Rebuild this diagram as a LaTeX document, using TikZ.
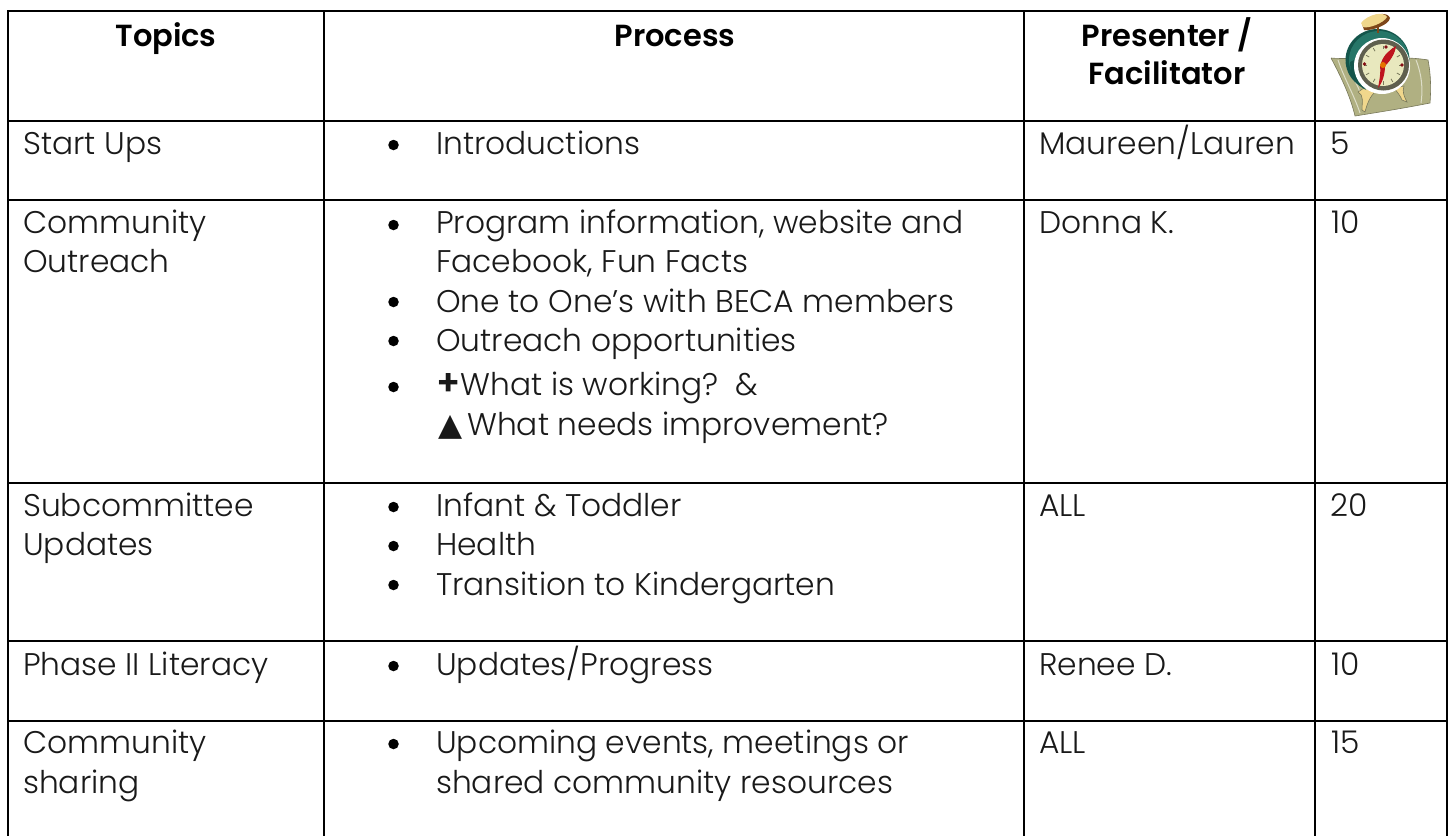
\documentclass[tikz,border=0pt]{standalone}
\usepackage{fontspec}
\setmainfont{Poppins Light}
\newfontfamily\boldf{Poppins SemiBold}
\newfontfamily\symf{DejaVu Sans}
\definecolor{panel}{RGB}{176,176,130}
\definecolor{panelL}{RGB}{222,222,200}
\definecolor{panelD}{RGB}{120,120,90}
\definecolor{tealc}{RGB}{38,118,104}
\definecolor{teald}{RGB}{20,85,75}
\definecolor{facec}{RGB}{232,232,190}
\definecolor{rimc}{RGB}{95,95,78}
\definecolor{handc}{RGB}{190,20,30}
\definecolor{hatc}{RGB}{240,215,140}
\definecolor{hatd}{RGB}{125,70,25}
\tikzset{
 grid/.style={line width=2.2pt,black},
 txt/.style={anchor=base west,inner sep=0pt,font=\fontsize{31.3}{40}\selectfont,text=black!90},
 hdr/.style={anchor=base,inner sep=0pt,align=center,font=\fontsize{30.5}{40}\selectfont\boldf},
 bul/.style={circle,fill=black,inner sep=0pt,minimum size=10.5pt},
}
\begin{document}
\begin{tikzpicture}[x=1pt,y=-1pt]
\useasboundingbox (0,0) rectangle (1450,836);
\foreach \y in {11,121,200,483,641,721} \draw[grid] (7,\y)--(1448,\y);
\foreach \x in {8,324,1024,1315,1447} \draw[grid] (\x,10)--(\x,836);
% headers
\node[hdr] (h1) at (166,46) {Topics};
\node[hdr] (h2) at (675,46) {Process};
\node[hdr] (h3) at (1167,46) {Presenter /};
\node[hdr] (h3b) at (1167,84) {Facilitator};
% column 1
\node[txt] (t1) at (23,154) {Start Ups};
\node[txt] (t2) at (23,233) {Community};
\node[txt] (t2b) at (23,272) {Outreach};
\node[txt] (t3) at (23,516) {Subcommittee};
\node[txt] (t3b) at (23,555) {Updates};
\node[txt] (t4) at (23,675) {Phase II Literacy};
\node[txt] (t5) at (23,753) {Community};
\node[txt] (t5b) at (23,793) {sharing};
% column 2
\foreach \y/\t in {154/{Introductions},233/{Program information, website and},272/{Facebook, Fun Facts},312/{One to One’s with BECA members},351/{Outreach opportunities},516/{Infant \& Toddler},555/{Health},595/{Transition to Kindergarten},675/{Updates/Progress},753/{Upcoming events, meetings or},793/{shared community resources}}
  \node[txt] at (436,\y) {\t};
\node[txt] (w1) at (436,395) {{\boldf\fontsize{36}{40}\selectfont +}What is working?\ \ \&};
\node[txt] (w2) at (436,435) {\hspace{2pt}{\symf ▲}\hspace{5pt}What needs improvement?};
\foreach \y in {145,225,302,341,387,507,546,585,666,744}
  \node[bul] at (393.5,\y) {};
% column 3
\node[txt] (p1) at (1039,154) {Maureen/Lauren};
\node[txt] (p2) at (1039,233) {Donna K.};
\node[txt] (p3) at (1039,516) {ALL};
\node[txt] (p4) at (1039,675) {Renee D.};
\node[txt] (p5) at (1039,753) {ALL};
% column 4
\node[txt] (n1) at (1330,154) {5};
\node[txt] (n2) at (1331,233) {10};
\node[txt] (n3) at (1330,516) {20};
\node[txt] (n4) at (1331,675) {10};
\node[txt] (n5) at (1331,753) {15};
% clock
\filldraw[fill=panel,draw=panelD,line width=.6pt] (1331,58) .. controls (1350,60) and (1400,55) .. (1428,60) .. controls (1431,75) and (1431,90) .. (1430,103) .. controls (1405,108) and (1380,112) .. (1355,116) .. controls (1350,95) and (1340,75) .. (1331,58);
\draw[panelL,line width=1pt] (1338,60) .. controls (1344,78) and (1354,95) .. (1360,113);
\draw[panelL,line width=1pt] (1346,61) .. controls (1350,72) and (1356,82) .. (1360,92);
\draw[panelL,line width=1pt] (1416,60) .. controls (1422,75) and (1423,90) .. (1421,103);
\filldraw[fill=hatc,draw=panelD,line width=.6pt] (1364,88) -- (1376,91) .. controls (1370,96) and (1367,104) .. (1365,112) -- (1362,110) .. controls (1362,102) and (1364,95) .. (1358,92) -- cycle;
\filldraw[fill=hatc,draw=panelD,line width=.6pt] (1394,88) -- (1404,86) .. controls (1402,92) and (1404,96) .. (1407,102) -- (1402,100) .. controls (1400,95) and (1397,92) .. (1394,88) -- cycle;
\fill[teald] (1377.5,60) ellipse[x radius=32,y radius=31];
\fill[tealc] (1379,60) ellipse[x radius=30,y radius=29];
\fill[teald] (1350,62) .. controls (1350,75) and (1356,85) .. (1366,90) .. controls (1358,82) and (1354,72) .. (1354,60) -- cycle;
\fill[white] (1382,66) circle (28);
\fill[rimc] (1383.5,65) circle (25.5);
\fill[facec] (1383,65) circle (21);
\foreach \a in {0,30,...,330}
  \draw[panelD,line width=.8pt] (1383,65) ++(\a:16) -- ++(\a:3.5);
\fill[handc!70!black] (1386,47) circle (1.8) (1402,65) circle (1.8) (1364.5,64) circle (1.8);
\fill[handc] (1381,63) .. controls (1384,54) and (1390,50) .. (1396,46) .. controls (1395,54) and (1390,61) .. (1385,66) -- cycle;
\fill[handc] (1380,66) .. controls (1381,73) and (1379,82) .. (1378,88) .. controls (1383,82) and (1385,73) .. (1385,66) -- cycle;
\fill[orange!90!black] (1383,65) circle (3);
\draw[hatd,line width=2.4pt] (1378,27)--(1378,33);
\fill[hatd] (1362,24) .. controls (1370,13) and (1388,11) .. (1390,18) .. controls (1389,25) and (1372,31) .. (1364,30) -- cycle;
\fill[hatc] (1361,23) .. controls (1368,14) and (1384,11) .. (1387,17) .. controls (1384,23) and (1368,29) .. (1363,27) -- cycle;
\end{tikzpicture}
\end{document}
